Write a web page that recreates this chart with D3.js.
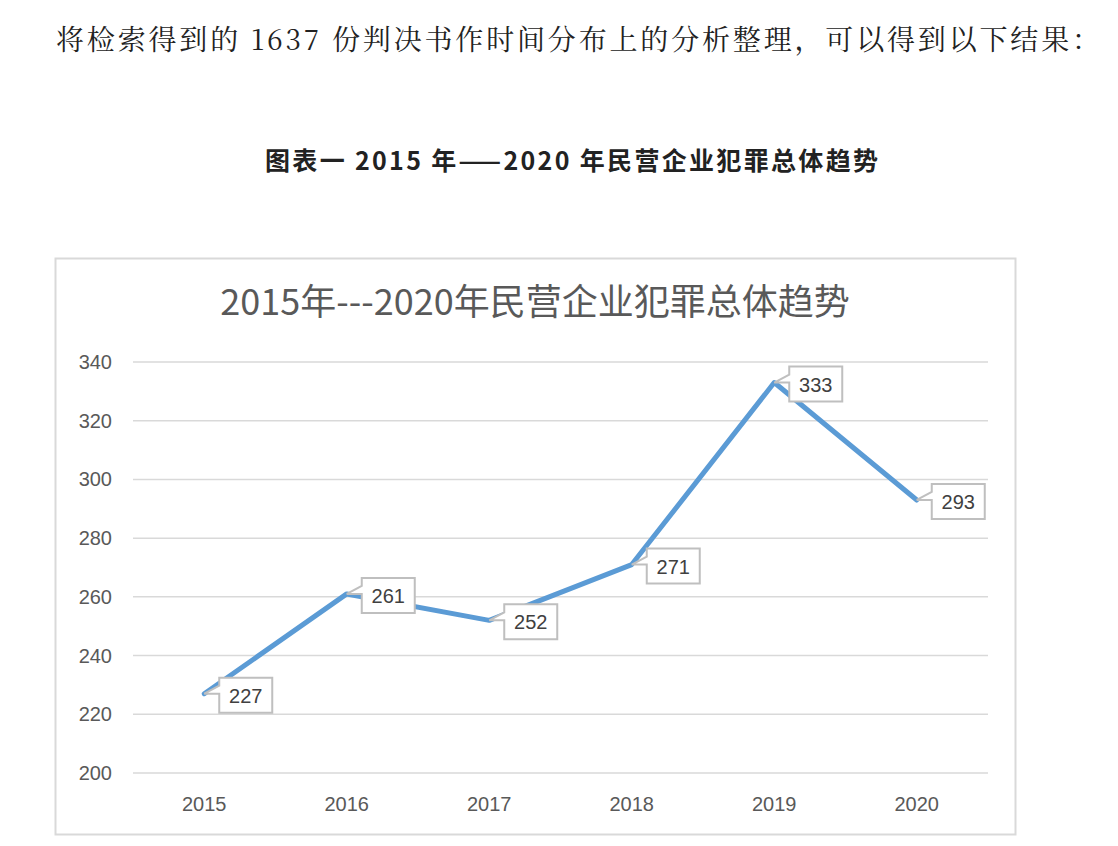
<!DOCTYPE html>
<html><head><meta charset="utf-8">
<script src="https://cdn.jsdelivr.net/npm/d3@7/dist/d3.min.js"></script>
<style>body{margin:0;background:#fff}</style></head>
<body><svg id="c" width="1118" height="846"></svg>
<script>
const categories = ["2015","2016","2017","2018","2019","2020"];
const values = [227,261,252,271,333,293];
const yTicks = [200,220,240,260,280,300,320,340];
const introText = "将检索得到的 1637 份判决书作时间分布上的分析整理，可以得到以下结果：";
const captionText = "图表一  2015 年——2020 年民营企业犯罪总体趋势";
const chartTitle = "2015年---2020年民营企业犯罪总体趋势";

const svg = d3.select("#c");
const cjk = "'Noto Sans CJK SC', sans-serif";
svg.append("text").attr("x",56).attr("y",50).attr("font-family","'Noto Serif CJK SC','Noto Sans CJK SC',serif")
  .attr("font-size",28).attr("fill","#222").attr("textLength",1044).attr("lengthAdjust","spacing").text(introText);
svg.append("text").attr("x",265).attr("y",170).attr("font-family",cjk)
  .attr("font-weight","bold").attr("font-size",25).attr("fill","#222")
  .attr("textLength",613).attr("lengthAdjust","spacing").text(captionText);
svg.append("rect").attr("x",55.5).attr("y",258.5).attr("width",960).attr("height",576)
  .attr("fill","#fff").attr("stroke","#d9d9d9").attr("stroke-width",2);
svg.append("text").attr("x",535).attr("y",315).attr("text-anchor","middle").attr("font-family",cjk)
  .attr("font-size",36).attr("fill","#595959").text(chartTitle);

const x = d3.scaleBand().domain(categories).range([133,988]);
const y = d3.scaleLinear().domain([200,340]).range([773,362]);
const g = svg.append("g");
g.selectAll(".grid").data(yTicks).join("line").attr("x1",133).attr("x2",988)
  .attr("y1",d=>y(d)).attr("y2",d=>y(d)).attr("stroke","#d9d9d9").attr("stroke-width",1.5);
g.selectAll(".yl").data(yTicks).join("text").attr("x",112).attr("y",d=>y(d)+7).attr("text-anchor","end")
  .attr("font-family","'Liberation Sans',sans-serif").attr("font-size",20).attr("fill","#595959").text(d=>d);
g.selectAll(".xl").data(categories).join("text").attr("x",d=>x(d)+x.bandwidth()/2).attr("y",811)
  .attr("text-anchor","middle").attr("font-family","'Liberation Sans',sans-serif").attr("font-size",20)
  .attr("fill","#595959").text(d=>d);

const pts = categories.map((c,i)=>[x(c)+x.bandwidth()/2, y(values[i]), values[i]]);
g.append("path").attr("d",d3.line()(pts.map(p=>[p[0],p[1]]))).attr("fill","none")
  .attr("stroke","#5b9bd5").attr("stroke-width",5).attr("stroke-linejoin","round").attr("stroke-linecap","round");

pts.forEach(p=>{
  const bx=p[0]+15, by=p[1]-16, bw=53, bh=35;
  const path = `M${p[0]},${p[1]} L${bx},${by+8} L${bx},${by} L${bx+bw},${by} L${bx+bw},${by+bh} L${bx},${by+bh} L${bx},${by+16} Z`;
  g.append("path").attr("d",path).attr("fill","#fff").attr("stroke","#bfbfbf").attr("stroke-width",2);
  g.append("text").attr("x",bx+bw/2).attr("y",by+25).attr("text-anchor","middle")
    .attr("font-family","'Liberation Sans',sans-serif").attr("font-size",20).attr("fill","#404040").text(p[2]);
});
</script></body></html>
